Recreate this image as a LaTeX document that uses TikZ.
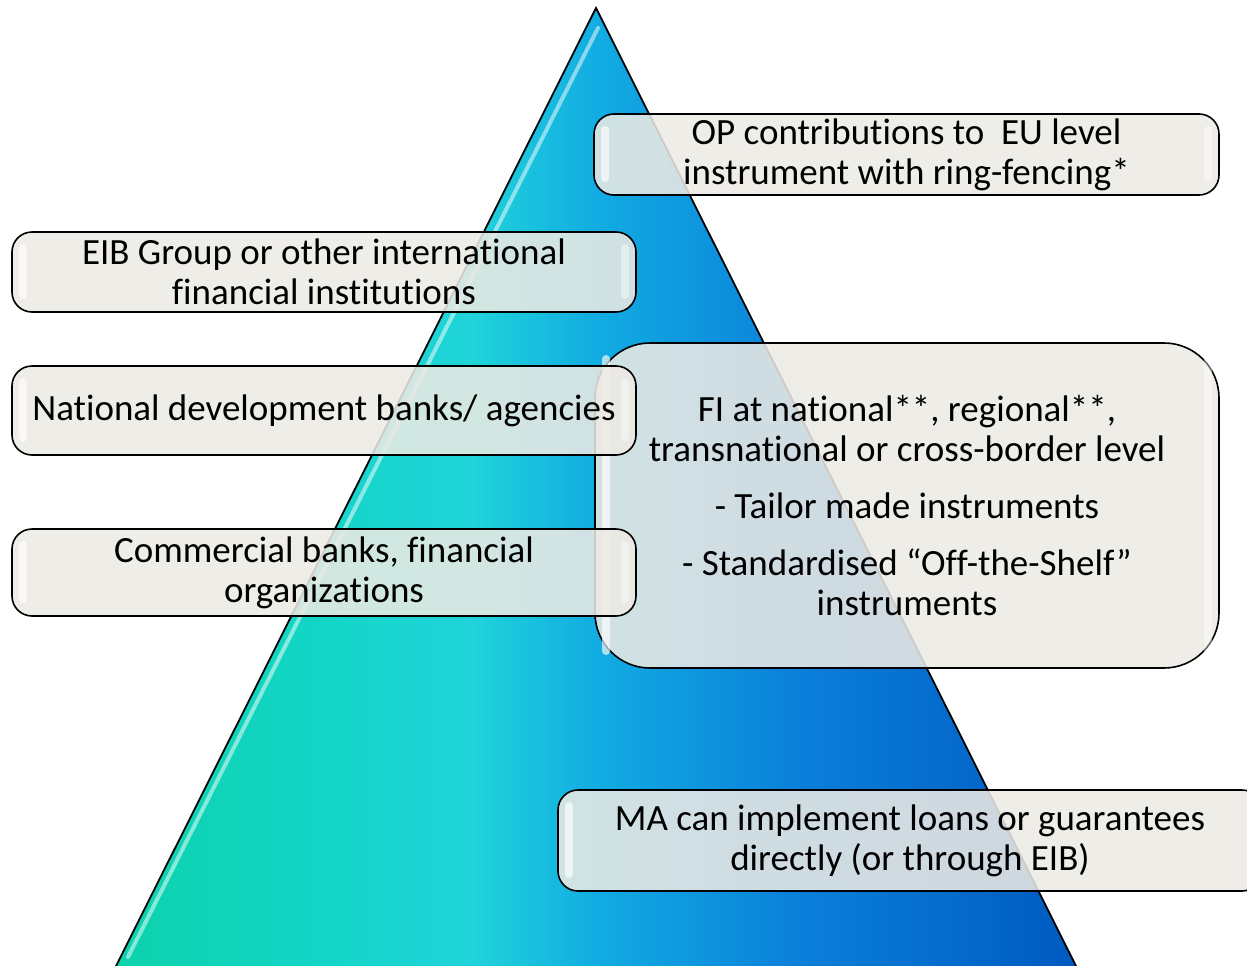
\documentclass[tikz,border=0pt]{standalone}
\usepackage{fontspec}
\setmainfont{Carlito}[Ligatures={NoCommon}]
\usetikzlibrary{calc}

% colours of the pyramid and the labels
\definecolor{pyrA}{RGB}{12,210,172}
\definecolor{pyrB}{RGB}{18,213,196}
\definecolor{pyrC}{RGB}{32,212,218}
\definecolor{pyrD}{RGB}{18,172,226}
\definecolor{pyrE}{RGB}{10,128,218}
\definecolor{pyrF}{RGB}{0,90,192}
\definecolor{labelfill}{RGB}{237,234,228}

% the central 50bp of the shading span the pyramid's width
\pgfdeclarehorizontalshading{pyramidshade}{100bp}{%
  color(0bp)=(pyrA); color(25bp)=(pyrA); color(34.5bp)=(pyrB);
  color(43.5bp)=(pyrC); color(50bp)=(pyrD); color(60.5bp)=(pyrE);
  color(75bp)=(pyrF); color(100bp)=(pyrF)}

\tikzset{
  labelbox/.style={draw=black, line width=1.6pt, fill=labelfill,
    fill opacity=0.87, text opacity=1, inner sep=0pt, outer sep=0pt,
    align=center, font=\fontsize{37}{40}\selectfont},
  smallbox/.style={labelbox, rounded corners=20pt},
  bigbox/.style={labelbox, rounded corners=55pt},
  glossstrip/.style={fill=white, fill opacity=0.65, rounded corners=4pt},
}

% white highlight strips near the left and right ends of a label
\newcommand{\glossbox}[1]{%
  \fill[glossstrip] ($(#1.north west)+(7,12)$) rectangle ($(#1.south west)+(15,-13)$);
  \fill[glossstrip, fill opacity=0.4] ($(#1.north east)+(-15,12)$) rectangle ($(#1.south east)+(-7,-13)$);
}

\begin{document}
\begin{tikzpicture}[x=1pt, y=-1pt]
  \useasboundingbox (0,0) rectangle (1247,966);
  \clip (0,0) rectangle (1247,966);

  % pyramid
  \coordinate (apex) at (596,8);
  \coordinate (baseL) at (116,966);
  \coordinate (baseR) at (1076,966);
  \shade[shading=pyramidshade] (baseL) -- (apex) -- (baseR) -- cycle;
  \draw[line width=1.8pt, line join=miter] (baseL) -- (apex) -- (baseR);
  % highlight along the left face
  \coordinate (shineTop) at (598,28);
  \coordinate (shineBot) at (128,957);
  \draw[white, opacity=0.5, line width=4pt, line cap=round] (shineTop) -- (shineBot);

  % labels
  \node[smallbox, minimum width=625pt, minimum height=81pt] (op) at (906.5,154.5)
    {OP contributions to \ EU level\\instrument with ring-fencing*};
  \glossbox{op}

  \node[smallbox, minimum width=624pt, minimum height=80pt] (eib) at (324,272)
    {EIB Group or other international\\financial institutions};
  \glossbox{eib}

  \node[bigbox, minimum width=624pt, minimum height=325pt] (fi) at (907,505.5)
    {FI at national**, regional**,\\transnational or cross-border level\\[17pt]
     - Tailor made instruments\\[17pt]
     - Standardised “Off-the-Shelf”\\instruments};
  \glossbox{fi}

  \node[smallbox, minimum width=624pt, minimum height=89pt] (nat) at (324,410.5)
    {National development banks/ agencies};
  \glossbox{nat}

  \node[smallbox, minimum width=624pt, minimum height=87pt] (com) at (324,572.5)
    {Commercial banks, financial\\organizations};
  \glossbox{com}

  \node[smallbox, minimum width=704pt, minimum height=101pt] (ma) at (910,840.5)
    {MA can implement loans or guarantees\\directly (or through EIB)};
  \glossbox{ma}
\end{tikzpicture}
\end{document}
